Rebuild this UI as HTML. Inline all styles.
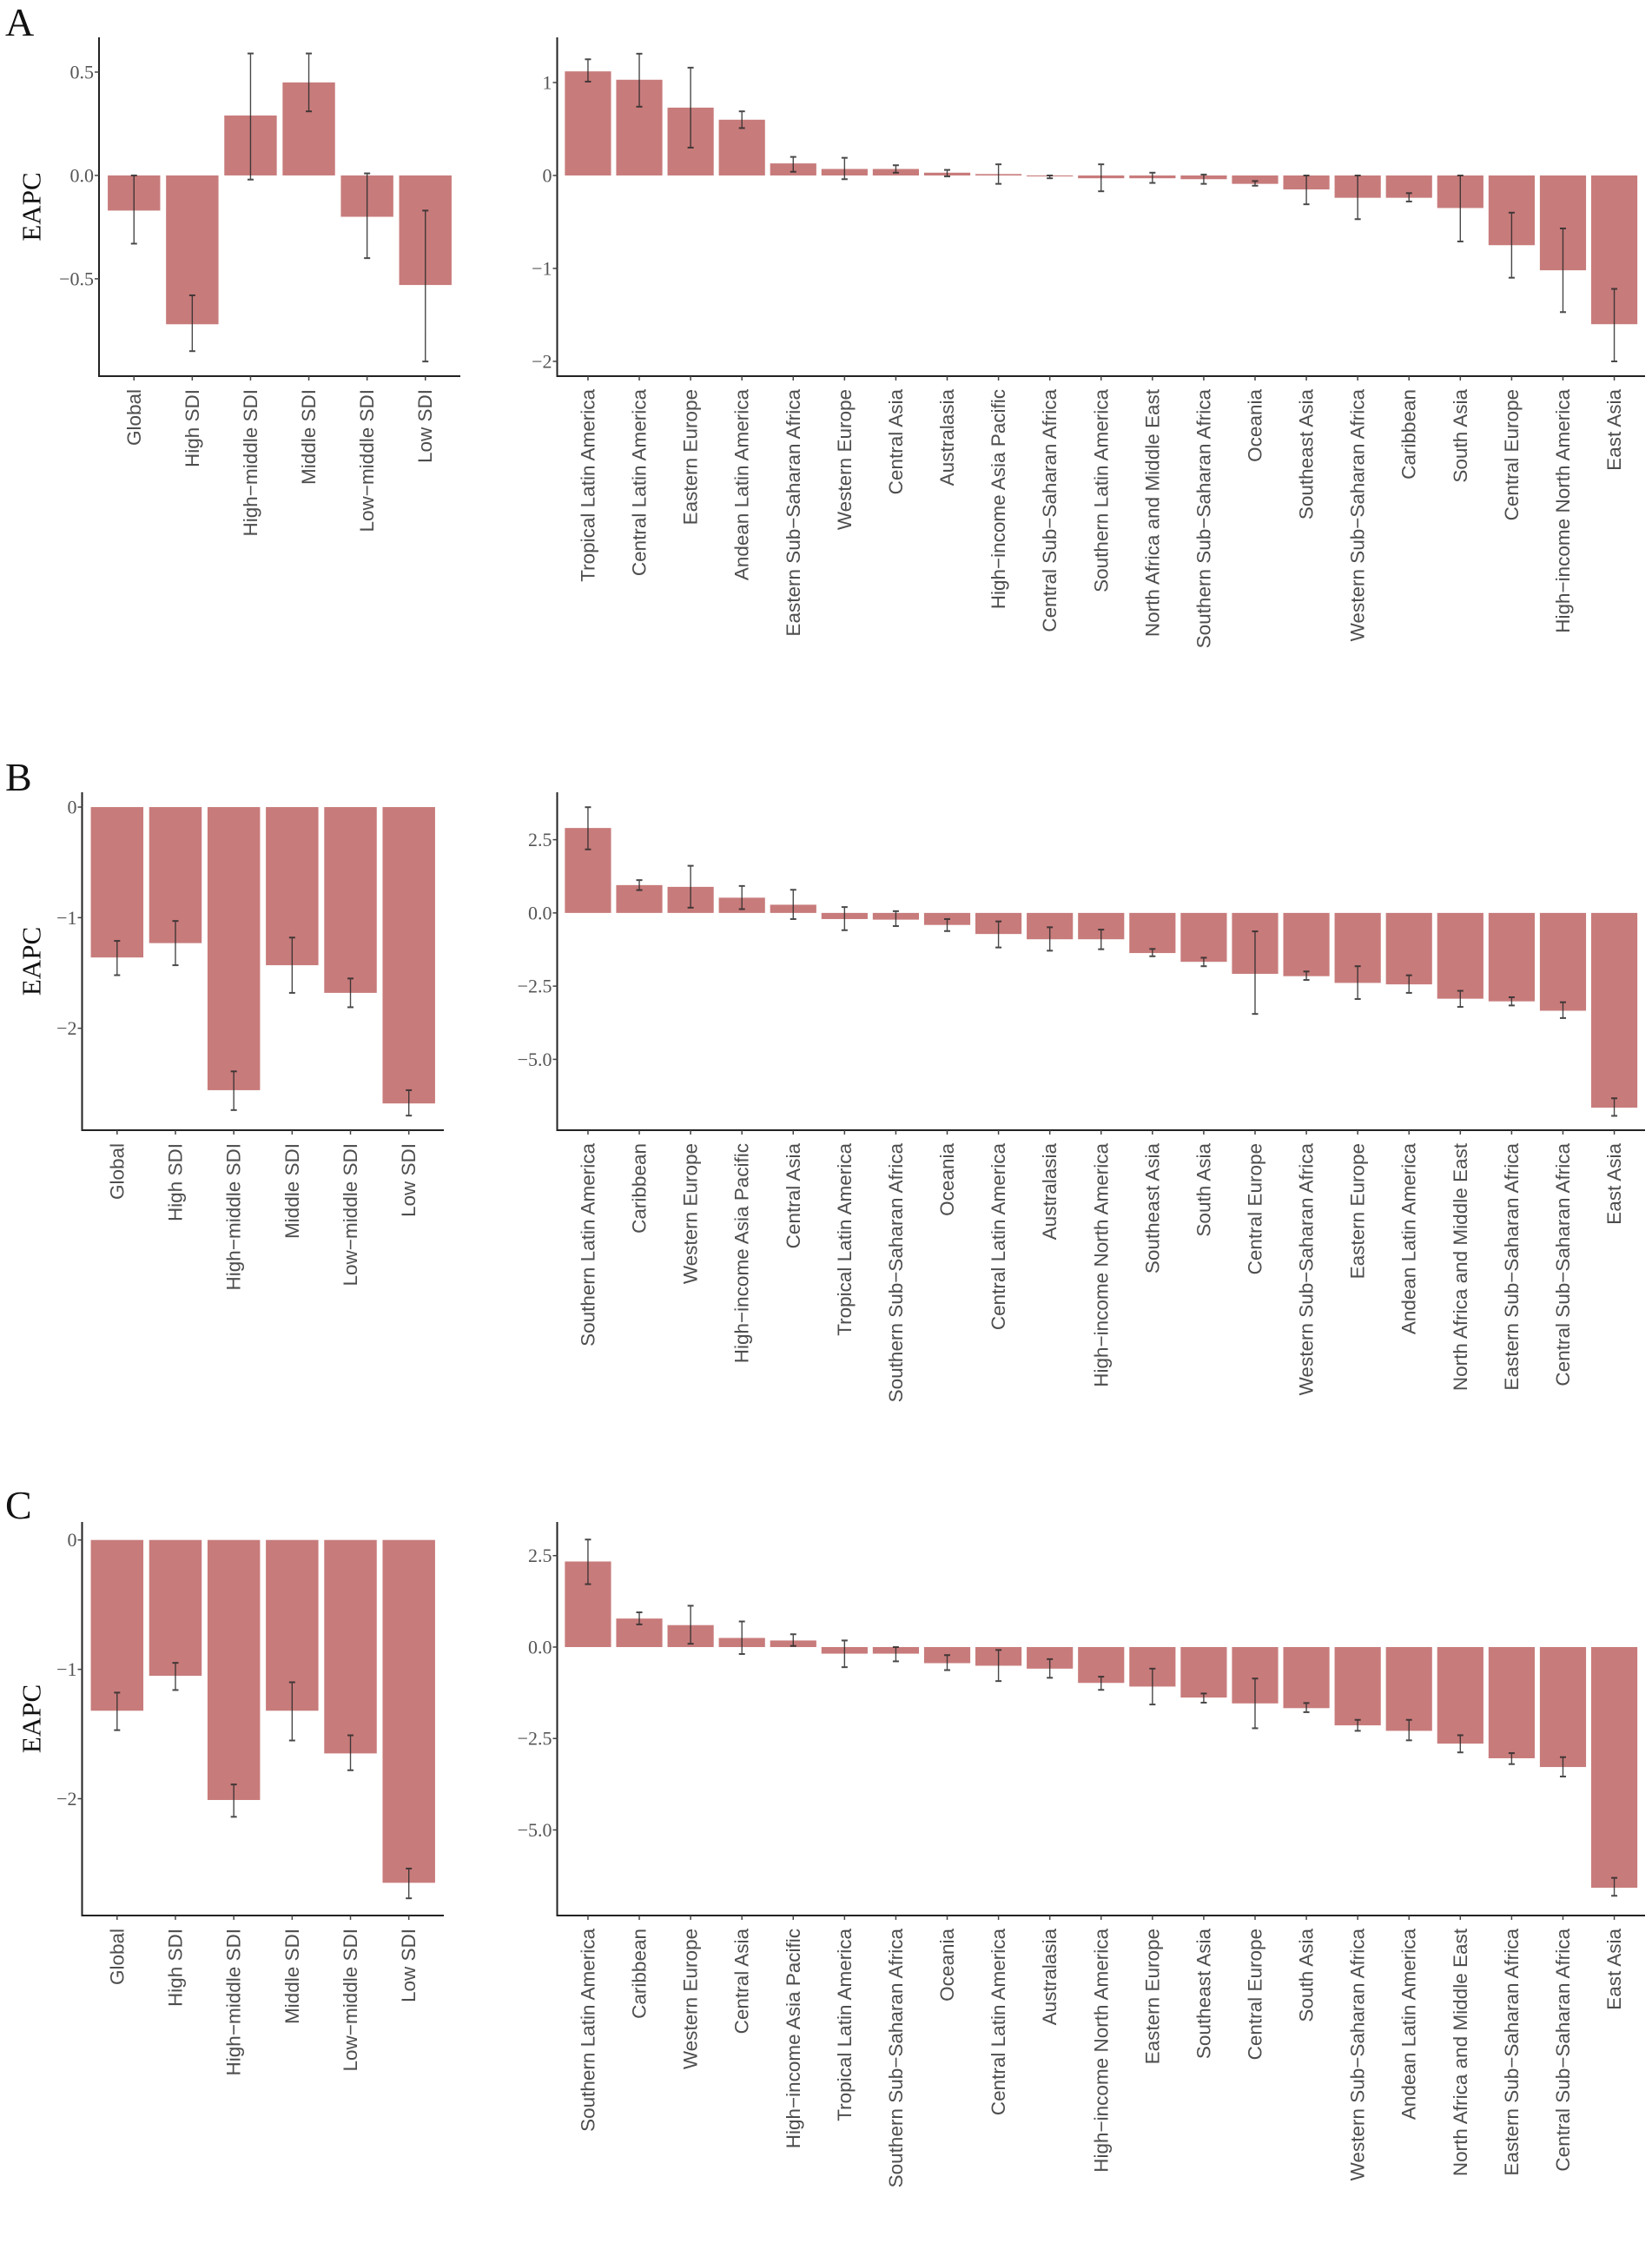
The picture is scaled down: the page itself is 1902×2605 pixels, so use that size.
<!DOCTYPE html>
<html>
<head>
<meta charset="utf-8">
<style>
html,body{margin:0;padding:0;background:#fff;}
svg{display:block;}
</style>
</head>
<body>
<svg id="fig" width="1902" height="2605" viewBox="0 0 1902 2605" xmlns="http://www.w3.org/2000/svg">
<rect x="0" y="0" width="1902" height="2605" fill="#ffffff"/>
<text x="6" y="41" font-family="Liberation Serif, serif" font-size="46" fill="#111">A</text>
<text x="6" y="910" font-family="Liberation Serif, serif" font-size="46" fill="#111">B</text>
<text x="6" y="1748" font-family="Liberation Serif, serif" font-size="46" fill="#111">C</text>
</svg>
<script>
// ---- Data ----
const sdiCategories = ["Global","High SDI","High\u2212middle SDI","Middle SDI","Low\u2212middle SDI","Low SDI"];

const aLeftValues = [-0.17,-0.72,0.29,0.45,-0.20,-0.53];
const aLeftUpper  = [0.00,-0.58,0.59,0.59,0.01,-0.17];
const aLeftLower  = [-0.33,-0.85,-0.02,0.31,-0.40,-0.90];

const aRightCategories = ["Tropical Latin America","Central Latin America","Eastern Europe","Andean Latin America","Eastern Sub\u2212Saharan Africa","Western Europe","Central Asia","Australasia","High\u2212income Asia Pacific","Central Sub\u2212Saharan Africa","Southern Latin America","North Africa and Middle East","Southern Sub\u2212Saharan Africa","Oceania","Southeast Asia","Western Sub\u2212Saharan Africa","Caribbean","South Asia","Central Europe","High\u2212income North America","East Asia"];
const aRightValues = [1.12,1.03,0.73,0.60,0.13,0.07,0.07,0.03,0.015,-0.01,-0.03,-0.03,-0.04,-0.09,-0.15,-0.24,-0.24,-0.35,-0.75,-1.02,-1.60];
const aRightUpper  = [1.25,1.31,1.16,0.69,0.20,0.19,0.11,0.06,0.12,0.00,0.12,0.03,0.01,-0.06,0.00,0.00,-0.19,0.00,-0.40,-0.57,-1.22];
const aRightLower  = [1.01,0.74,0.30,0.51,0.04,-0.04,0.03,-0.01,-0.09,-0.03,-0.17,-0.08,-0.09,-0.11,-0.31,-0.47,-0.28,-0.71,-1.10,-1.47,-2.00];

const bLeftValues = [-1.36,-1.23,-2.56,-1.43,-1.68,-2.68];
const bLeftUpper  = [-1.21,-1.03,-2.39,-1.18,-1.55,-2.56];
const bLeftLower  = [-1.52,-1.43,-2.74,-1.68,-1.81,-2.79];

const bRightCategories = ["Southern Latin America","Caribbean","Western Europe","High\u2212income Asia Pacific","Central Asia","Tropical Latin America","Southern Sub\u2212Saharan Africa","Oceania","Central Latin America","Australasia","High\u2212income North America","Southeast Asia","South Asia","Central Europe","Western Sub\u2212Saharan Africa","Eastern Europe","Andean Latin America","North Africa and Middle East","Eastern Sub\u2212Saharan Africa","Central Sub\u2212Saharan Africa","East Asia"];
const bRightValues = [2.90,0.95,0.89,0.52,0.28,-0.21,-0.23,-0.41,-0.72,-0.90,-0.90,-1.37,-1.67,-2.08,-2.16,-2.39,-2.44,-2.93,-3.02,-3.34,-6.65];
const bRightUpper  = [3.61,1.12,1.61,0.92,0.79,0.20,0.06,-0.21,-0.29,-0.49,-0.57,-1.23,-1.53,-0.63,-2.00,-1.82,-2.13,-2.66,-2.88,-3.05,-6.33];
const bRightLower  = [2.17,0.78,0.18,0.13,-0.21,-0.59,-0.45,-0.62,-1.18,-1.29,-1.24,-1.48,-1.82,-3.45,-2.29,-2.94,-2.73,-3.21,-3.16,-3.59,-6.93];

const cLeftValues = [-1.32,-1.05,-2.01,-1.32,-1.65,-2.65];
const cLeftUpper  = [-1.18,-0.95,-1.89,-1.10,-1.51,-2.54];
const cLeftLower  = [-1.47,-1.16,-2.14,-1.55,-1.78,-2.77];

const cRightCategories = ["Southern Latin America","Caribbean","Western Europe","Central Asia","High\u2212income Asia Pacific","Tropical Latin America","Southern Sub\u2212Saharan Africa","Oceania","Central Latin America","Australasia","High\u2212income North America","Eastern Europe","Southeast Asia","Central Europe","South Asia","Western Sub\u2212Saharan Africa","Andean Latin America","North Africa and Middle East","Eastern Sub\u2212Saharan Africa","Central Sub\u2212Saharan Africa","East Asia"];
const cRightValues = [2.34,0.78,0.60,0.25,0.18,-0.18,-0.18,-0.44,-0.51,-0.59,-0.98,-1.08,-1.38,-1.54,-1.67,-2.14,-2.29,-2.64,-3.04,-3.28,-6.58];
const cRightUpper  = [2.94,0.95,1.13,0.70,0.35,0.18,0.00,-0.22,-0.08,-0.33,-0.81,-0.59,-1.27,-0.86,-1.53,-1.99,-1.99,-2.41,-2.90,-3.01,-6.31];
const cRightLower  = [1.72,0.62,0.09,-0.19,0.03,-0.55,-0.39,-0.63,-0.93,-0.84,-1.17,-1.57,-1.52,-2.22,-1.78,-2.29,-2.55,-2.88,-3.20,-3.54,-6.80];

const aLeftTicks = [-0.5,0,0.5];   const aLeftTickLabels = ["\u22120.5","0.0","0.5"];
const aRightTicks = [-2,-1,0,1];   const aRightTickLabels = ["\u22122","\u22121","0","1"];
const bLeftTicks = [-2,-1,0];      const bLeftTickLabels = ["\u22122","\u22121","0"];
const bRightTicks = [-5,-2.5,0,2.5]; const bRightTickLabels = ["\u22125.0","\u22122.5","0.0","2.5"];
const cLeftTicks = [-2,-1,0];      const cLeftTickLabels = ["\u22122","\u22121","0"];
const cRightTicks = [-5,-2.5,0,2.5]; const cRightTickLabels = ["\u22125.0","\u22122.5","0.0","2.5"];

// ---- Rendering ----
const NS = "http://www.w3.org/2000/svg";
const svg = document.getElementById("fig");
const BAR = "#c87b7b";

function mk(tag, attrs, parent){
  const e = document.createElementNS(NS, tag);
  for (const k in attrs) e.setAttribute(k, attrs[k]);
  (parent||svg).appendChild(e);
  return e;
}

function drawPanel(id, box, cats, vals, up, lo, ticks, tickLabels, withTitle){
  const g = mk("g", {});
  
  
  const n = cats.length;
  const band = (box.x1 - box.x0) / (n + 0.2);
  const xc = i => box.x0 + (0.6 + i) * band;
  const y = v => box.top + (box.ymax - v) / (box.ymax - box.ymin) * (box.bottom - box.top);
  const y0 = y(0);
  // bars
  for (let i = 0; i < n; i++){
    const yv = y(vals[i]);
    const r = mk("rect", {x: xc(i) - band*0.45, y: Math.min(yv, y0), width: band*0.9, height: Math.max(1, Math.abs(yv - y0)), fill: BAR}, g);
    
    
  }
  // error bars
  for (let i = 0; i < n; i++){
    const eg = mk("g", {stroke: "#2a2a2a", "stroke-width": 1.4, fill: "none", opacity: 0.85}, g);
    
    
    const yu = y(up[i]), yl = y(lo[i]), x = xc(i);
    mk("line", {x1: x, x2: x, y1: yu, y2: yl}, eg);
    mk("line", {x1: x-3.5, x2: x+3.5, y1: yu, y2: yu, "stroke-width": 2}, eg);
    mk("line", {x1: x-3.5, x2: x+3.5, y1: yl, y2: yl, "stroke-width": 2}, eg);
  }
  // axes
  const ax = mk("path", {d: `M${box.x0},${box.top} L${box.x0},${box.bottom} L${box.x1},${box.bottom}`, stroke: "#222", "stroke-width": 2, fill: "none"}, g);
  
  
  // y ticks
  for (let j = 0; j < ticks.length; j++){
    const ty = y(ticks[j]);
    mk("line", {x1: box.x0-5, x2: box.x0, y1: ty, y2: ty, stroke: "#444", "stroke-width": 1.5}, g);
    const t = mk("text", {x: box.x0-6, y: ty, "text-anchor": "end", "dominant-baseline": "central", "font-family": "Liberation Serif, serif", "font-size": 22, fill: "#555"}, g);
    
    
    t.textContent = tickLabels[j];
  }
  // x ticks + labels
  for (let i = 0; i < n; i++){
    const x = xc(i);
    mk("line", {x1: x, x2: x, y1: box.bottom, y2: box.bottom+5, stroke: "#444", "stroke-width": 1.5}, g);
    const ly = box.bottom + 15;
    const t = mk("text", {x: x, y: ly, transform: `rotate(-90 ${x} ${ly})`, "text-anchor": "end", "dominant-baseline": "central", "font-family": "Liberation Sans, Arial, sans-serif", "font-size": 22.5, fill: "#4d4d4d"}, g);
    
    
    t.textContent = cats[i];
  }
  if (withTitle){
    const cy = (box.top + box.bottom)/2;
    const t = mk("text", {x: 36, y: cy, transform: `rotate(-90 36 ${cy})`, "text-anchor": "middle", "dominant-baseline": "central", "font-family": "Liberation Serif, serif", "font-size": 31, fill: "#111"}, g);
    
    
    t.textContent = "EAPC";
  }
}

drawPanel("panel-a-sdi", {x0:114, x1:530, top:43, bottom:433, ymax:0.668, ymin:-0.971}, sdiCategories, aLeftValues, aLeftUpper, aLeftLower, aLeftTicks, aLeftTickLabels, true);
drawPanel("panel-a-regions", {x0:641.5, x1:1894, top:43, bottom:433, ymax:1.486, ymin:-2.159}, aRightCategories, aRightValues, aRightUpper, aRightLower, aRightTicks, aRightTickLabels, false);
drawPanel("panel-b-sdi", {x0:94.5, x1:511, top:912, bottom:1301, ymax:0.134, ymin:-2.922}, sdiCategories, bLeftValues, bLeftUpper, bLeftLower, bLeftTicks, bLeftTickLabels, true);
drawPanel("panel-b-regions", {x0:641.5, x1:1894, top:912, bottom:1301, ymax:4.12, ymin:-7.42}, bRightCategories, bRightValues, bRightUpper, bRightLower, bRightTicks, bRightTickLabels, false);
drawPanel("panel-c-sdi", {x0:94.5, x1:511, top:1752, bottom:2205, ymax:0.139, ymin:-2.903}, sdiCategories, cLeftValues, cLeftUpper, cLeftLower, cLeftTicks, cLeftTickLabels, true);
drawPanel("panel-c-regions", {x0:641.5, x1:1894, top:1752, bottom:2205, ymax:3.42, ymin:-7.34}, cRightCategories, cRightValues, cRightUpper, cRightLower, cRightTicks, cRightTickLabels, false);
</script>
</body>
</html>
